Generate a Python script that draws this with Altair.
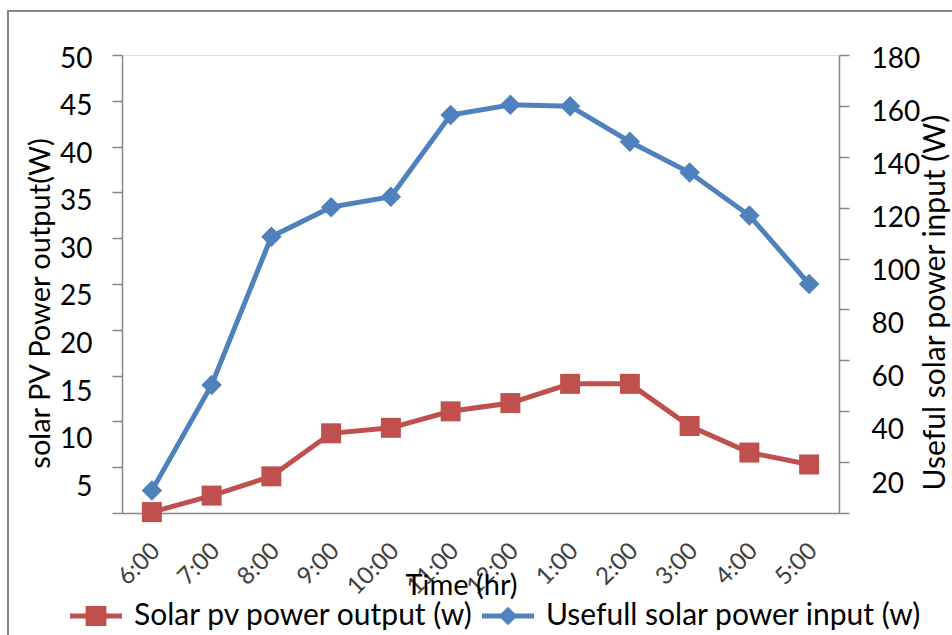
import altair as alt
import pandas as pd

# ---- data ----
times = ["6:00", "7:00", "8:00", "9:00", "10:00", "11:00", "12:00",
         "1:00", "2:00", "3:00", "4:00", "5:00"]
pv_output = [0.1, 1.9, 4.0, 8.7, 9.3, 11.1, 12.0, 14.1, 14.1, 9.5, 6.6, 5.3]
useful_input = [8.8, 50.3, 108.6, 120.2, 124.3, 156.4, 160.4, 159.9,
                145.9, 133.8, 116.9, 90.0]
series_names = ["Solar pv power output (w)", "Usefull solar power input (w)"]
left_ticks = list(range(0, 51, 5))
right_ticks = list(range(0, 181, 20))

RED = "#C0504D"
BLUE = "#4F81BD"
GRAY = "#868686"
FONT = "Lato"

df_pv = pd.DataFrame({"time": times, "value": pv_output})
df_in = pd.DataFrame({"time": times, "value": useful_input})
df_leg = pd.DataFrame({"series": series_names})

x_enc = alt.X(
    "time:N", sort=times,
    scale=alt.Scale(type="point", padding=0.5),
    axis=alt.Axis(
        title="Time (hr)", labelAngle=315, labelAlign="right",
        labelBaseline="middle", labelPadding=34, labelOffset=4,
        labelFontSize=24, labelColor="#404040", labelFont=FONT,
        labelOverlap=False, ticks=False, domainColor=GRAY, domainWidth=1.5,
        titleFontSize=29, titleFontWeight="normal", titleFont=FONT,
        titleColor="black", titleX=339, titleY=72, titleBaseline="middle",
        grid=False,
    ),
)

left_axis = alt.Axis(
    orient="left", values=left_ticks, grid=False,
    labelExpr="datum.value == 0 ? '' : datum.label",
    labelOffset={"expr": "21.8 - 0.356 * datum.value"},
    labelPadding=20, labelFontSize=28, labelFont=FONT, labelColor="black",
    tickSize=10, tickColor=GRAY, tickWidth=1.5,
    domainColor=GRAY, domainWidth=1.5,
    title="solar PV Power output(W)", titleFontSize=29, titleFont=FONT,
    titleFontWeight="normal", titleColor="black", titleAngle=270,
    titleX=-82, titleY=248, titleAlign="center", titleBaseline="middle",
)

right_axis = alt.Axis(
    orient="right", values=right_ticks, grid=False,
    labelExpr="datum.value == 0 ? '' : datum.label",
    labelOffset={"expr": "24.25 - 0.1125 * datum.value"},
    labelPadding=22, labelFontSize=28, labelFont=FONT, labelColor="black",
    tickSize=10, tickColor=GRAY, tickWidth=1.5,
    domainColor=GRAY, domainWidth=1.5,
    title="Useful solar power input (W)", titleFontSize=30, titleFont=FONT,
    titleFontWeight="normal", titleColor="black", titleAngle=270,
    titleX=96, titleY=247, titleAlign="center", titleBaseline="middle",
)

y_left = alt.Y("value:Q", scale=alt.Scale(domain=[0, 50], nice=False), axis=left_axis)
y_right = alt.Y("value:Q", scale=alt.Scale(domain=[0, 180], nice=False), axis=right_axis)

red_base = alt.Chart(df_pv).encode(x=x_enc, y=y_left)
red_layer = alt.layer(
    red_base.mark_line(color=RED, strokeWidth=5),
    red_base.mark_point(shape="square", filled=True, size=400, opacity=1, color=RED),
)

blue_base = alt.Chart(df_in).encode(x=x_enc, y=y_right)
blue_layer = alt.layer(
    blue_base.mark_line(color=BLUE, strokeWidth=5),
    blue_base.mark_point(shape="diamond", filled=True, size=420, opacity=1, color=BLUE),
)

# legend symbols: line segment + marker, as custom unit paths
red_sym = "M-1,-0.1L1,-0.1L1,0.1L-1,0.1Z M-0.4,-0.38L0.4,-0.38L0.4,0.38L-0.4,0.38Z"
blue_sym = "M-1,-0.1L1,-0.1L1,0.1L-1,0.1Z M0,-0.36L0.36,0L0,0.36L-0.36,0Z"

leg = alt.Legend(
    orient="none", legendX=-52, legendY=535, direction="horizontal",
    title=None, symbolSize=2704, symbolOpacity=1, symbolStrokeWidth=0,
    labelFontSize=30, labelFont=FONT, labelColor="black", labelOffset=12,
    columnPadding=8, padding=0, labelLimit=0,
)
legend_layer = alt.Chart(df_leg).mark_point(filled=True, opacity=0).encode(
    color=alt.Color("series:N", scale=alt.Scale(domain=series_names, range=[RED, BLUE]), legend=leg),
    shape=alt.Shape("series:N", scale=alt.Scale(domain=series_names, range=[red_sym, blue_sym]), legend=leg),
)

# outer chart-area frame (left and top edges visible)
frame_left = alt.Chart(alt.Data(values=[{}])).mark_rule(color=GRAY, strokeWidth=2).encode(
    x=alt.value(-114), y=alt.value(-44), y2=alt.value(600)
)
frame_top = alt.Chart(alt.Data(values=[{}])).mark_rule(color=GRAY, strokeWidth=2).encode(
    x=alt.value(-115), x2=alt.value(900), y=alt.value(-44)
)

chart = alt.layer(
    frame_left, frame_top, red_layer, blue_layer, legend_layer
).resolve_scale(y="independent").properties(
    width=717, height=458,
    autosize=alt.AutoSizeParams(type="none"),
    padding={"left": 122, "top": 55, "right": 113, "bottom": 122},
    background="white",
).configure_view(stroke=None).configure(font=FONT)

chart.save("out.html", embed_options={"renderer": "svg", "actions": False})
